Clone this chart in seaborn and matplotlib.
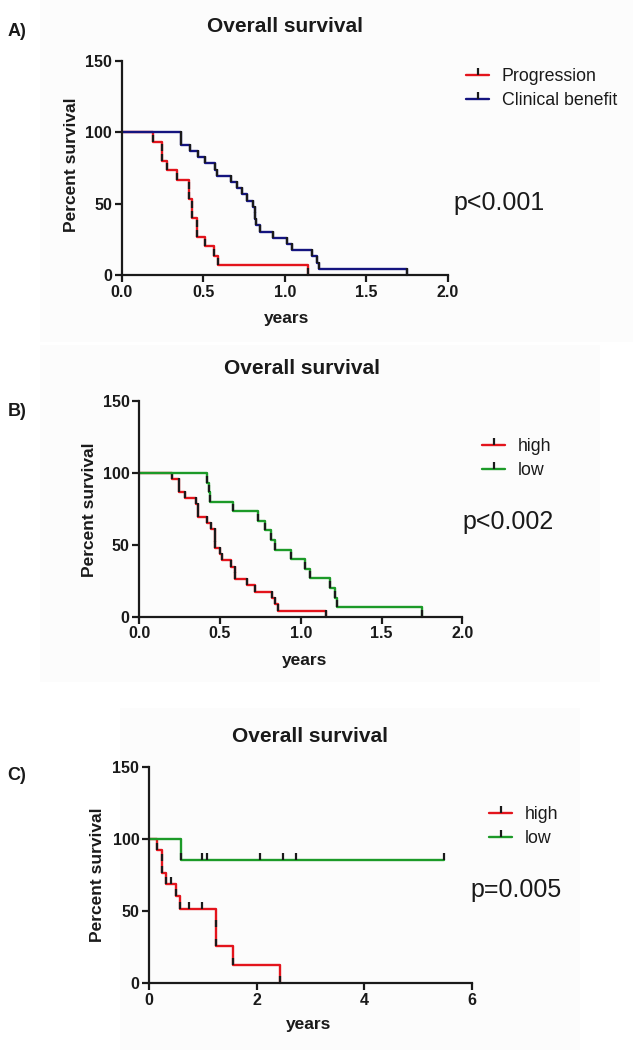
import numpy as np
import pandas as pd
import matplotlib
matplotlib.use('Agg')
import matplotlib.pyplot as plt
from matplotlib.lines import Line2D
from matplotlib.patches import Rectangle
import seaborn as sns

# ---------------- data ----------------
# Panel A: Progression vs Clinical benefit (time in years, survival % after each subject)
a_prog_t = [0.194, 0.25, 0.25, 0.276, 0.341, 0.415, 0.415, 0.43, 0.43, 0.46, 0.46, 0.511, 0.566, 0.593, 1.141]
a_prog_s = [93.3, 86.7, 80.0, 73.3, 66.7, 60.0, 53.3, 46.7, 40.0, 33.3, 26.7, 20.0, 13.3, 6.7, 0.0]
a_ben_t = [0.362, 0.362, 0.419, 0.47, 0.511, 0.572, 0.587, 0.669, 0.706, 0.736, 0.767, 0.808,
           0.815, 0.82, 0.825, 0.849, 0.93, 1.012, 1.047, 1.166, 1.2, 1.212, 1.75]
a_ben_s = [95.7, 91.3, 87.0, 82.6, 78.3, 73.9, 69.6, 65.2, 60.9, 56.5, 52.2, 47.8,
           43.5, 39.1, 34.8, 30.4, 26.1, 21.7, 17.4, 13.0, 8.7, 4.3, 0.0]

# Panel B: high vs low
b_high_t = [0.2, 0.248, 0.248, 0.283, 0.351, 0.365, 0.365, 0.417, 0.442, 0.469, 0.469, 0.469,
            0.5, 0.514, 0.566, 0.593, 0.593, 0.669, 0.716, 0.82, 0.84, 0.861, 1.154]
b_high_s = [95.7, 91.3, 87.0, 82.6, 78.3, 73.9, 69.6, 65.2, 60.9, 56.5, 52.2, 47.8,
            43.5, 39.1, 34.8, 30.4, 26.1, 21.7, 17.4, 13.0, 8.7, 4.3, 0.0]
b_low_t = [0.417, 0.43, 0.44, 0.578, 0.737, 0.778, 0.815, 0.84, 0.937, 1.026, 1.057, 1.181, 1.212, 1.222, 1.748]
b_low_s = [93.3, 86.7, 80.0, 73.3, 66.7, 60.0, 53.3, 46.7, 40.0, 33.3, 26.7, 20.0, 13.3, 6.7, 0.0]

# Panel C: high vs low (includes censored subjects)
c_high_t = [0.143, 0.236, 0.236, 0.316, 0.403, 0.502, 0.577, 0.744, 0.992, 1.246, 1.246, 1.568, 2.44]
c_high_s = [92.3, 84.6, 76.9, 69.2, 69.2, 60.6, 51.9, 51.9, 51.9, 38.9, 26.0, 13.0, 0.0]
c_low_t = [0.595, 0.98, 1.07, 2.06, 2.49, 2.73, 5.49]
c_low_s = [85.7, 85.7, 85.7, 85.7, 85.7, 85.7, 85.7]

start_t, start_s = 0.0, 100.0

a_labels = ["Progression", "Clinical benefit"]
b_labels = ["high", "low"]
c_labels = ["high", "low"]
p_texts = ["p<0.001", "p<0.002", "p=0.005"]
panel_tags = ["A)", "B)", "C)"]
a_xticks = [0.0, 0.5, 1.0, 1.5, 2.0]
c_xticks = [0, 2, 4, 6]
yticks = [0, 50, 100, 150]

RED = "#e3141c"
BLUE = "#14147f"
GREEN = "#1c9a28"

# ---------------- style ----------------
sns.set_theme(style="ticks")
plt.rcParams['font.family'] = ['Liberation Sans', 'DejaVu Sans']
plt.rcParams['axes.linewidth'] = 1.6
plt.rcParams['text.color'] = 'black'
plt.rcParams['axes.labelcolor'] = 'black'
plt.rcParams['xtick.color'] = 'black'
plt.rcParams['ytick.color'] = 'black'
plt.rcParams['axes.edgecolor'] = 'black'

W, H = 633, 1050
fig = plt.figure(figsize=(W / 100, H / 100), dpi=100)
fig.patch.set_facecolor('white')

TICK = [(0, 0), (0, 1)]


def px_axes(left, right, top, bottom):
    return fig.add_axes([left / W, 1 - bottom / H, (right - left) / W, (bottom - top) / H])


def draw_curve(ax, t, s, color, label):
    df = pd.DataFrame({"years": [start_t] + list(t), "surv": [start_s] + list(s)})
    sns.lineplot(data=df, x="years", y="surv", ax=ax, estimator=None, sort=False,
                 drawstyle="steps-post", color=color, lw=1.7, marker=TICK,
                 markevery=slice(1, None), mec="k", mfc="k", ms=10, mew=1.6,
                 clip_on=False, label=label, legend=False)


def style_axes(ax, xmax, xticks, xfmt):
    ax.set_xlim(0, xmax)
    ax.set_ylim(0, 150)
    ax.set_xticks(xticks)
    ax.set_xticklabels([xfmt(v) for v in xticks])
    ax.set_yticks(yticks)
    ax.set_yticklabels([str(v) for v in yticks])
    ax.tick_params(axis='both', direction='out', length=5, width=1.6, colors='k',
                   labelsize=11.5, pad=2)
    for lab in ax.get_xticklabels() + ax.get_yticklabels():
        lab.set_fontweight('bold')
        lab.set_color('k')
    for sp in ["top", "right"]:
        ax.spines[sp].set_visible(False)
    for sp in ["left", "bottom"]:
        ax.spines[sp].set_color('k')
    ax.set_facecolor('none')
    ax.set_xlabel("")
    ax.set_ylabel("")


def legend(ax, labels, colors, x, y):
    handles = [Line2D([0], [0], color=c, lw=1.7, marker=TICK, mec='k', ms=10, mew=1.6)
               for c in colors]
    leg = ax.legend(handles, labels, loc='upper left', bbox_to_anchor=(x / W, 1 - y / H),
                    bbox_transform=fig.transFigure, frameon=False, fontsize=12.8,
                    handlelength=1.3, handletextpad=0.7, labelspacing=0.42, borderpad=0,
                    borderaxespad=0)
    for txt in leg.get_texts():
        txt.set_color('k')


# faint panel backgrounds
for (x0, y0, x1, y1) in [(40, 0, 633, 342), (40, 345, 600, 682), (120, 708, 580, 1050)]:
    fig.patches.append(Rectangle((x0 / W, 1 - y1 / H), (x1 - x0) / W, (y1 - y0) / H,
                                 transform=fig.transFigure, facecolor='#fcfcfc',
                                 edgecolor='none', zorder=-10))

# ---------------- Panel A ----------------
axA = px_axes(121.7, 447.7, 61, 275)
draw_curve(axA, a_prog_t, a_prog_s, RED, a_labels[0])
draw_curve(axA, a_ben_t, a_ben_s, BLUE, a_labels[1])
style_axes(axA, 2.0, a_xticks, lambda v: f"{v:.1f}")
legend(axA, a_labels, [RED, BLUE], 466, 68)

# ---------------- Panel B ----------------
axB = px_axes(139.3, 462.3, 401, 616.7)
draw_curve(axB, b_high_t, b_high_s, RED, b_labels[0])
draw_curve(axB, b_low_t, b_low_s, GREEN, b_labels[1])
style_axes(axB, 2.0, a_xticks, lambda v: f"{v:.1f}")
legend(axB, b_labels, [RED, GREEN], 482, 438)

# ---------------- Panel C ----------------
axC = px_axes(149, 471.7, 767.3, 983.3)
draw_curve(axC, c_high_t, c_high_s, RED, c_labels[0])
draw_curve(axC, c_low_t, c_low_s, GREEN, c_labels[1])
style_axes(axC, 6, c_xticks, lambda v: f"{v:d}")
legend(axC, c_labels, [RED, GREEN], 489, 806)

# ---------------- texts ----------------
def ftext(x, y, s, **kw):
    fig.text(x / W, 1 - y / H, s, ha='center', va='center', color='k', **kw)

titles_xy = [(285, 27), (302, 368), (310, 737)]
tags_xy = [(17, 31), (17, 411), (17, 776)]
xlab_xy = [(287, 318), (305, 660), (309, 1025)]
ylab_xy = [(72, 165), (90, 510), (97, 875)]
p_xy = [(499, 203), (508, 522), (516, 890)]

for i in range(3):
    ftext(*titles_xy[i], "Overall survival", fontsize=15, fontweight='bold')
    ftext(*tags_xy[i], panel_tags[i], fontsize=13, fontweight='bold')
    ftext(*xlab_xy[i], "years", fontsize=12.5, fontweight='bold')
    ftext(*ylab_xy[i], "Percent survival", fontsize=12.5, fontweight='bold', rotation=90)
    ftext(*p_xy[i], p_texts[i], fontsize=18)

fig.savefig("out.png", dpi=100)
